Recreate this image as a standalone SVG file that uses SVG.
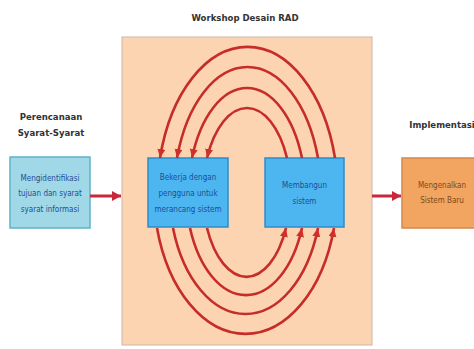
<svg xmlns="http://www.w3.org/2000/svg" width="474" height="349" viewBox="0 0 474 349">
<style>
.lbl{font-family:"Liberation Sans Narrow","DejaVu Sans Condensed","Liberation Sans",sans-serif;font-weight:bold;fill:#333;text-anchor:middle}
.bt{font-family:"Liberation Sans Narrow","DejaVu Sans Condensed","Liberation Sans",sans-serif;font-size:8px;fill:#1d4f91;text-anchor:middle}
.ot{font-family:"Liberation Sans Narrow","DejaVu Sans Condensed","Liberation Sans",sans-serif;font-size:8px;fill:#7a4a1a;text-anchor:middle}
.arc{fill:none;stroke:#c62d28;stroke-width:2.6;marker-end:url(#ah)}
.flow{fill:none;stroke:#c8283a;stroke-width:3;marker-end:url(#ah2)}
</style>
<defs>
<marker id="ah" markerUnits="userSpaceOnUse" markerWidth="11" markerHeight="10" refX="9" refY="4" orient="auto">
<path d="M0,0 L9,4 L0,8 Z" fill="#d0302a"/>
</marker>
<marker id="ah2" markerUnits="userSpaceOnUse" markerWidth="12" markerHeight="12" refX="9" refY="5" orient="auto">
<path d="M0,0 L9,5 L0,10 Z" fill="#c8283a"/>
</marker>
</defs>
<rect width="474" height="349" fill="#ffffff"/>
<g id="workshop">
<rect x="122" y="37" width="250" height="308" fill="#fcd4b2" stroke="#c8b8a8" stroke-width="1"/>
<text class="lbl" x="245" y="21" font-size="9.5">Workshop Desain RAD</text>
</g>
<g id="perencanaan">
<text class="lbl" x="51" y="120" font-size="9.5">Perencanaan</text>
<text class="lbl" x="51" y="136" font-size="9.5">Syarat-Syarat</text>
<rect x="10" y="157" width="80" height="71" fill="#a1d8e8" stroke="#5fb3cc" stroke-width="1.5"/>
<text class="bt" x="50" y="181">Mengidentifikasi</text>
<text class="bt" x="50" y="196">tujuan dan syarat</text>
<text class="bt" x="50" y="212">syarat informasi</text>
</g>
<g id="bekerja">
<rect x="148" y="158" width="80" height="69" fill="#4db5f0" stroke="#2c8cc8" stroke-width="1.5"/>
<text class="bt" x="188" y="180">Bekerja dengan</text>
<text class="bt" x="188" y="196">pengguna untuk</text>
<text class="bt" x="188" y="212">merancang sistem</text>
</g>
<g id="membangun">
<rect x="265" y="158" width="79" height="69" fill="#4db5f0" stroke="#2c8cc8" stroke-width="1.5"/>
<text class="bt" x="304.5" y="188">Membangun</text>
<text class="bt" x="304.5" y="204">sistem</text>
</g>
<g id="implementasi">
<text class="lbl" x="442" y="128" font-size="9.5">Implementasi</text>
<rect x="402" y="158" width="80" height="70" fill="#f2a461" stroke="#d4884c" stroke-width="1.5"/>
<text class="ot" x="442" y="188">Mengenalkan</text>
<text class="ot" x="442" y="203">Sistem Baru</text>
</g>
<g id="connectors">
<path class="flow" d="M90,196 L121,196"/>
<path class="flow" d="M372,196 L401,196"/>
<path class="arc" d="M335,158 A90.6,150 0 0 0 160,158"/>
<path class="arc" d="M318,158 A73.9,130 0 0 0 177,158"/>
<path class="arc" d="M302,158 A58.9,109 0 0 0 192,158"/>
<path class="arc" d="M287,158 A44.5,89 0 0 0 207,158"/>
<path class="arc" d="M157,228 A91.9,145 0 0 0 334,228"/>
<path class="arc" d="M173,228 A76.3,125 0 0 0 318,228"/>
<path class="arc" d="M190,228 A60.2,106 0 0 0 302,228"/>
<path class="arc" d="M207,228 A44.1,88 0 0 0 286,228"/>
</g>
</svg>
